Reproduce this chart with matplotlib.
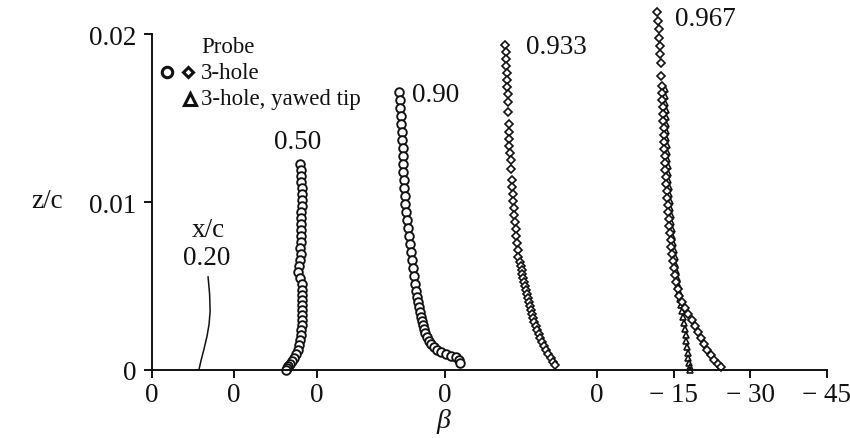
import matplotlib
matplotlib.use("Agg")
import matplotlib.pyplot as plt
import numpy as np

plt.rcParams['font.family'] = ['Liberation Serif', 'DejaVu Serif']

# Station x/c labels and the horizontal position of each station's beta = 0 origin
stations = ['0.20', '0.50', '0.90', '0.933', '0.967']
origins = [0.0, 16.1, 32.4, 57.5, 87.3]
extra_ticks = [-15, -30, -45]          # extra beta ticks for the last station

# x/c = 0.20 : faired curve only
s020_z = [0.00554, 0.00452, 0.00351, 0.00274, 0.00202, 0.00125, 0.00054, 0.0]
s020_beta = [-11.0, -11.3, -11.4, -11.2, -10.8, -10.2, -9.6, -9.2]

# x/c = 0.50 : 3-hole probe (circles)
s050_z = [0.01226, 0.01190, 0.01155, 0.01119, 0.01083, 0.01048, 0.01012, 0.00976,
          0.00940, 0.00905, 0.00869, 0.00833, 0.00798, 0.00762, 0.00726, 0.00690,
          0.00655, 0.00619, 0.00583, 0.00548, 0.00512, 0.00476, 0.00446, 0.00417,
          0.00387, 0.00357, 0.00327, 0.00298, 0.00268, 0.00238, 0.00208, 0.00179,
          0.00149, 0.00119, 0.00095, 0.00071, 0.00054, 0.00036, 0.00024, 0.00012, 0.0]
s050_beta = [-13.0, -13.1, -13.2, -13.2, -13.3, -13.3, -13.3, -13.3, -13.2, -13.2,
             -13.2, -13.2, -13.1, -13.1, -13.0, -13.1, -12.9, -12.7, -12.5, -12.9,
             -13.3, -13.4, -13.4, -13.4, -13.3, -13.3, -13.3, -13.3, -13.3, -13.2,
             -13.1, -13.0, -12.8, -12.5, -12.2, -11.8, -11.4, -11.0, -10.6, -10.4, -10.2]

# x/c = 0.90 : 3-hole probe (circles)
s090_z = [0.01655, 0.01607, 0.01560, 0.01512, 0.01464, 0.01417, 0.01369, 0.01321,
          0.01274, 0.01226, 0.01179, 0.01131, 0.01083, 0.01036, 0.00988, 0.00940,
          0.00893, 0.00845, 0.00798, 0.00750, 0.00702, 0.00655, 0.00607, 0.00560,
          0.00512, 0.00470, 0.00435, 0.00405, 0.00375, 0.00345, 0.00315, 0.00292,
          0.00268, 0.00244, 0.00220, 0.00196, 0.00173, 0.00155, 0.00137, 0.00119,
          0.00107, 0.00095, 0.00083, 0.00077, 0.00060, 0.00042]
s090_beta = [-16.0, -16.2, -16.3, -16.4, -16.5, -16.6, -16.7, -16.8, -16.8, -16.9,
             -16.9, -17.0, -17.1, -17.2, -17.3, -17.5, -17.6, -17.8, -18.0, -18.2,
             -18.4, -18.6, -18.8, -19.0, -19.2, -19.4, -19.6, -19.8, -20.0, -20.2,
             -20.4, -20.6, -20.8, -21.0, -21.2, -21.6, -22.0, -22.4, -22.9, -23.5,
             -24.3, -25.3, -26.3, -27.3, -27.8, -28.0]

# x/c = 0.933 : 3-hole probe (diamonds)
s0933_z = [0.01935, 0.01893, 0.01851, 0.01810, 0.01768, 0.01726, 0.01685, 0.01643,
           0.01595, 0.01536, 0.01464, 0.01417, 0.01375, 0.01333, 0.01292, 0.01250,
           0.01196, 0.01131, 0.01089, 0.01048, 0.01006, 0.00964, 0.00923, 0.00881,
           0.00839, 0.00798, 0.00756, 0.00714, 0.00673, 0.00643, 0.00619, 0.00595,
           0.00571, 0.00548, 0.00524, 0.00500, 0.00476, 0.00452, 0.00429, 0.00405,
           0.00381, 0.00357, 0.00333, 0.00310, 0.00286, 0.00262, 0.00238, 0.00214,
           0.00190, 0.00167, 0.00143, 0.00119, 0.00095, 0.00071, 0.00048, 0.00030]
s0933_beta = [-11.8, -11.9, -12.0, -12.0, -12.1, -12.2, -12.2, -12.3, -12.4, -12.4,
              -12.5, -12.5, -12.5, -12.6, -12.7, -12.8, -12.9, -13.0, -13.1, -13.2,
              -13.3, -13.4, -13.5, -13.7, -13.8, -13.9, -14.1, -14.2, -14.3, -14.6,
              -14.8, -15.0, -15.1, -15.3, -15.5, -15.7, -15.9, -16.1, -16.3, -16.5,
              -16.7, -16.9, -17.1, -17.3, -17.5, -17.8, -18.0, -18.3, -18.6, -18.9,
              -19.3, -19.7, -20.2, -20.7, -21.2, -21.6]

# x/c = 0.967 : 3-hole probe (diamonds)
s0967_z = [0.02131, 0.02080, 0.02030, 0.01979, 0.01929, 0.01878, 0.01827, 0.01750,
           0.01690, 0.01649, 0.01607, 0.01565, 0.01524, 0.01482, 0.01440, 0.01399,
           0.01357, 0.01315, 0.01274, 0.01232, 0.01190, 0.01149, 0.01107, 0.01065,
           0.01024, 0.00982, 0.00940, 0.00899, 0.00857, 0.00815, 0.00774, 0.00732,
           0.00690, 0.00649, 0.00607, 0.00565, 0.00524, 0.00482, 0.00440, 0.00405,
           0.00369, 0.00333, 0.00298, 0.00262, 0.00226, 0.00190, 0.00155, 0.00119,
           0.00089, 0.00060, 0.00036, 0.00018]
s0967_beta = [-11.7, -11.9, -12.1, -12.2, -12.3, -12.4, -12.5, -12.6, -12.7, -12.8,
              -12.8, -12.9, -12.9, -12.9, -13.0, -13.0, -13.1, -13.1, -13.2, -13.3,
              -13.3, -13.4, -13.5, -13.6, -13.7, -13.8, -13.9, -14.0, -14.1, -14.3,
              -14.4, -14.5, -14.7, -14.9, -15.1, -15.3, -15.5, -15.8, -16.1, -16.6,
              -17.2, -17.8, -18.5, -19.2, -19.8, -20.4, -21.0, -21.6, -22.3, -22.9,
              -23.6, -24.2]

# x/c = 0.967 : 3-hole probe with yawed tip (triangles)
s0967y_z = [0.01673, 0.01631, 0.01589, 0.01548, 0.01506, 0.01464, 0.01423, 0.01381,
            0.01339, 0.01298, 0.01256, 0.01214, 0.01173, 0.01131, 0.01089, 0.01048,
            0.01006, 0.00964, 0.00923, 0.00881, 0.00839, 0.00798, 0.00756, 0.00714,
            0.00673, 0.00631, 0.00589, 0.00548, 0.00506, 0.00464, 0.00423, 0.00387,
            0.00351, 0.00315, 0.00280, 0.00244, 0.00208, 0.00173, 0.00137, 0.00101,
            0.00071, 0.00042, 0.00018, 0.0]
s0967y_beta = [-13.2, -13.3, -13.3, -13.4, -13.4, -13.4, -13.5, -13.5, -13.6, -13.6,
               -13.7, -13.8, -13.8, -13.9, -14.0, -14.1, -14.2, -14.3, -14.4, -14.5,
               -14.6, -14.7, -14.9, -15.0, -15.2, -15.3, -15.5, -15.7, -15.9, -16.1,
               -16.3, -16.5, -16.7, -16.9, -17.1, -17.2, -17.4, -17.5, -17.6, -17.8,
               -17.9, -18.0, -18.1, -18.2]

yticks = [0, 0.01, 0.02]
ytick_labels = ['0', '0.01', '0.02']


def xpos(origin, beta):
    # beta is plotted increasing to the left, measured from each station's origin
    return origin - np.asarray(beta)


fig = plt.figure(figsize=(8.5, 4.39), dpi=100)
ax = fig.add_axes([0.1788, 0.1549, 0.816, 0.8419])
ax.set_xlim(0, 136)
ax.set_ylim(0, 0.022)

ink = '#111111'
circ = dict(marker='o', ms=6.2, mfc='white', mec=ink, mew=1.35, ls='none', clip_on=False)
diam = dict(marker='D', ms=4.2, mfc='white', mec=ink, mew=1.2, ls='none', clip_on=False)
tri = dict(marker='^', ms=4.8, mfc='white', mec=ink, mew=1.2, ls='none', clip_on=False)

ax.plot(xpos(origins[0], s020_beta), s020_z, color=ink, lw=1.1, clip_on=False)
ax.plot(xpos(origins[1], s050_beta), s050_z, **circ)
ax.plot(xpos(origins[2], s090_beta), s090_z, **circ)
ax.plot(xpos(origins[3], s0933_beta), s0933_z, **diam)
ax.plot(xpos(origins[4], s0967y_beta), s0967y_z, **tri)
ax.plot(xpos(origins[4], s0967_beta), s0967_z, **diam)

# Axes: only left and bottom lines, trimmed to the tick range
xticks = list(origins) + [origins[-1] - t for t in extra_ticks]
xtick_labels = ['0'] * len(origins) + ['\u2212 %d' % abs(t) for t in extra_ticks]
for side in ('top', 'right'):
    ax.spines[side].set_visible(False)
for side in ('left', 'bottom'):
    ax.spines[side].set_linewidth(1.4)
    ax.spines[side].set_color(ink)
ax.spines['left'].set_bounds(0, 0.02)
ax.spines['bottom'].set_bounds(0, xticks[-1])

ax.set_xticks(xticks)
ax.set_xticklabels(xtick_labels)
ax.set_yticks(yticks)
ax.set_yticklabels(ytick_labels)
ax.tick_params(axis='both', direction='out', length=6, width=1.4, color=ink,
               labelsize=19.5, labelcolor=ink)
ax.tick_params(axis='x', pad=3)
ax.tick_params(axis='y', pad=5)

ax.text(57.1, -0.00300, '\u03b2', fontsize=20, fontstyle='italic', color=ink,
        ha='center', va='center')
ax.text(-20.6, 0.01006, 'z/c', fontsize=19.5, color=ink, ha='center', va='center')

# Station labels
lab = dict(fontsize=19.5, color=ink, va='center')
ax.text(28.6, 0.0136, stations[1], ha='center', **lab)
ax.text(51.0, 0.01637, stations[2], ha='left', **lab)
ax.text(73.3, 0.01925, stations[3], ha='left', **lab)
ax.text(102.5, 0.0209, stations[4], ha='left', **lab)
ax.text(11.0, 0.00839, 'x/c', ha='center', **lab)
ax.text(10.8, 0.00670, stations[0], ha='center', **lab)

# Probe key
key = dict(fontsize=16.5, color=ink, va='center', ha='left')
ax.text(9.6, 0.01926, 'Probe', **key)
ax.text(9.6, 0.01771, '3-hole', **key)
ax.text(9.6, 0.01616, '3-hole, yawed tip', **key)
ax.plot([2.9], [0.01771], marker='o', ms=7.5, mfc='white', mec=ink, mew=2.2, ls='none')
ax.plot([7.1], [0.01771], marker='D', ms=5.5, mfc='white', mec=ink, mew=2.2, ls='none')
ax.plot([7.5], [0.01616], marker='^', ms=8, mfc='white', mec=ink, mew=2.2, ls='none')

fig.savefig('out.png', dpi=100, facecolor='white')
